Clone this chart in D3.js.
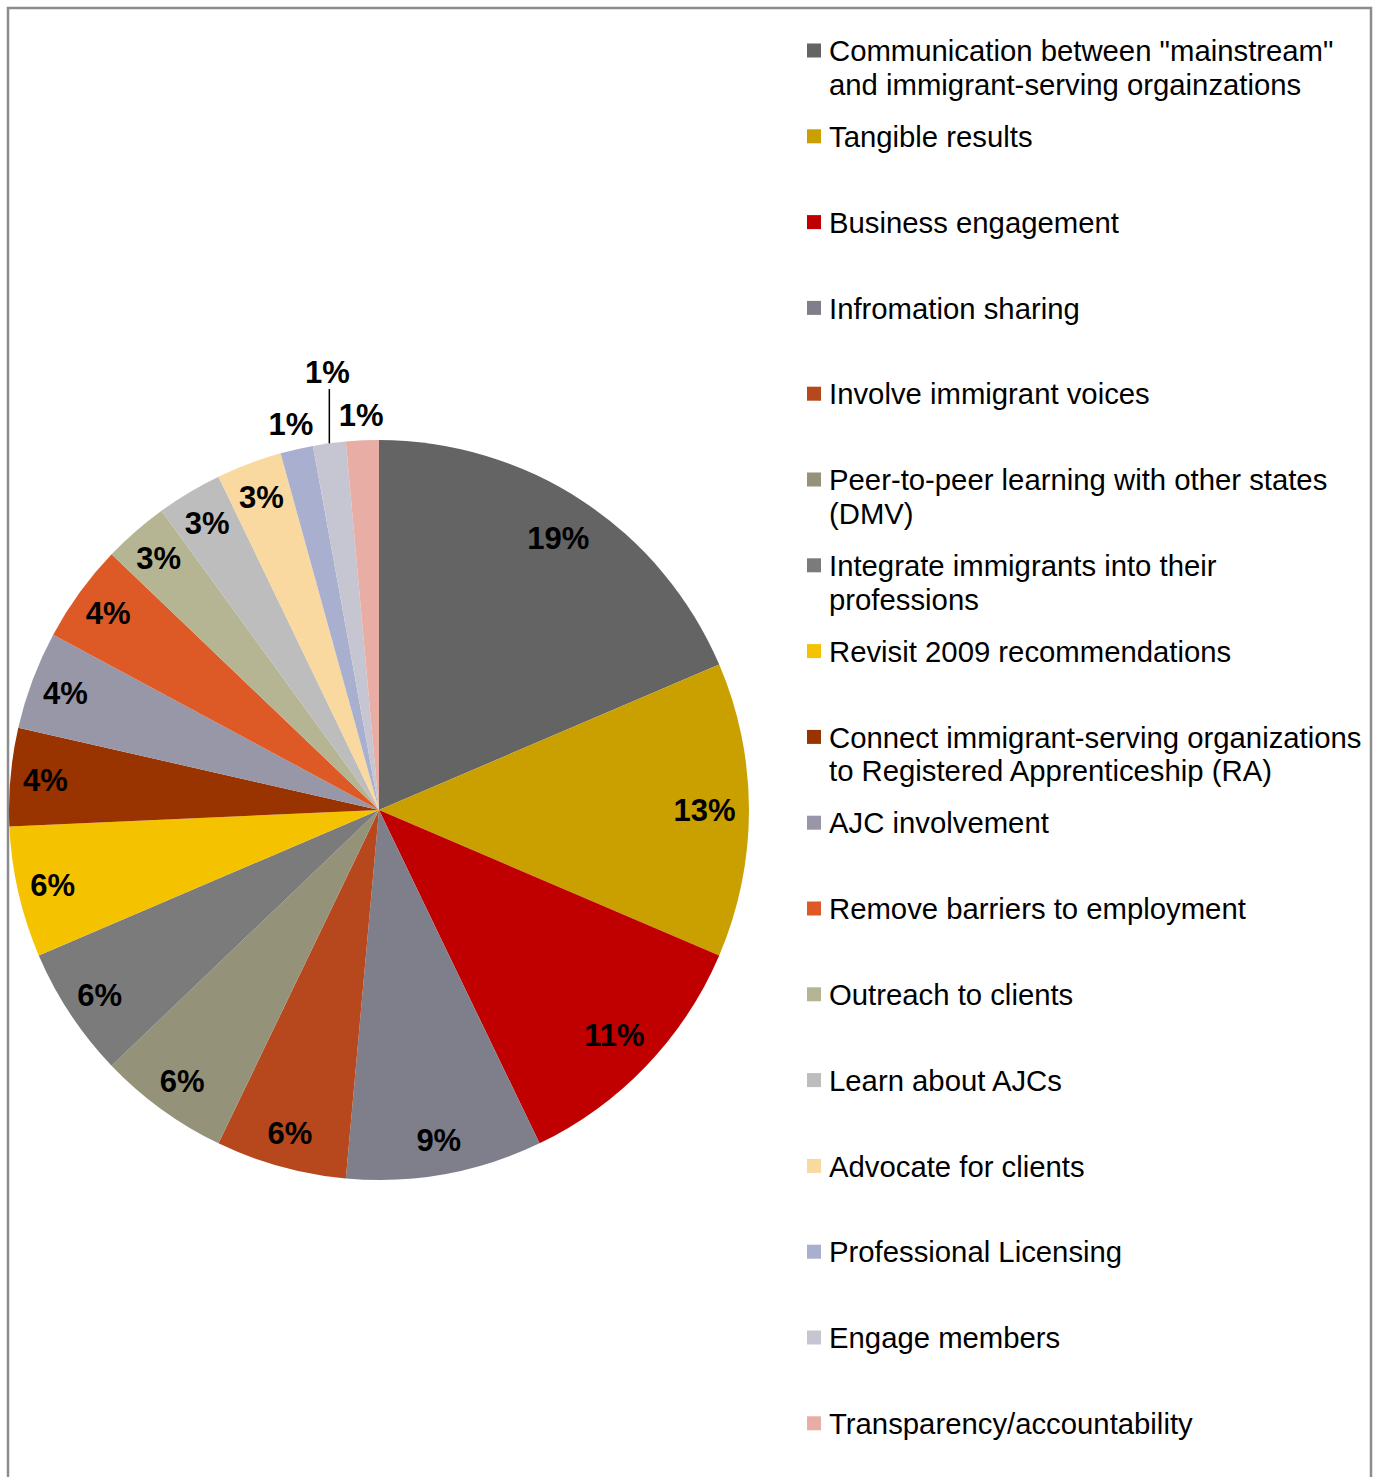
<!DOCTYPE html>
<html>
<head>
<meta charset="utf-8">
<script src="https://cdn.jsdelivr.net/npm/d3@7"></script>
<style>
  body { margin: 0; background: #fff; }
  svg { display: block; font-family: Arial, "Liberation Sans", sans-serif; }
</style>
</head>
<body>
<div id="chart"></div>
<script>
// categories, in pie order (clockwise from 12 o'clock); "\n" marks legend line breaks
var categories = [
    "Communication between \"mainstream\"\nand immigrant-serving orgainzations",
    "Tangible results",
    "Business engagement",
    "Infromation sharing",
    "Involve immigrant voices",
    "Peer-to-peer learning with other states\n(DMV)",
    "Integrate immigrants into their\nprofessions",
    "Revisit 2009 recommendations",
    "Connect immigrant-serving organizations\nto Registered Apprenticeship (RA)",
    "AJC involvement",
    "Remove barriers to employment",
    "Outreach to clients",
    "Learn about AJCs",
    "Advocate for clients",
    "Professional Licensing",
    "Engage members",
    "Transparency/accountability"
];

// number of mentions per category (shares shown as rounded percentages)
var counts = [13, 9, 8, 6, 4, 4, 4, 4, 3, 3, 3, 2, 2, 2, 1, 1, 1];

var colors = [
    "#646464", "#c9a000", "#c00000", "#7f7f8c", "#b7471c", "#949379",
    "#7b7b7b", "#f5c200", "#993300", "#9797a8", "#dd5a27", "#b5b593",
    "#bdbdbd", "#f9d9a0", "#a9b0cf", "#c6c6d2", "#e8ada4"
];

var width = 1373, height = 1477;
var cx = 379, cy = 810, radius = 370;

var svg = d3.select("#chart")
    .append("svg")
    .attr("width", width)
    .attr("height", height);

// chart frame
svg.append("rect")
    .attr("x", 8)
    .attr("y", 8)
    .attr("width", 1363)
    .attr("height", 1500)
    .attr("fill", "none")
    .attr("stroke", "#8c8c8c")
    .attr("stroke-width", 2.5);

var data = categories.map(function (c, i) {
    return {name: c, value: counts[i], color: colors[i]};
});
var total = d3.sum(counts);
var fmt = d3.format(".0%");

var pie = d3.pie()
    .sort(null)
    .value(function (d) { return d.value; });

var arc = d3.arc()
    .innerRadius(0)
    .outerRadius(radius);

var arcs = pie(data);

var g = svg.append("g")
    .attr("transform", "translate(" + cx + "," + cy + ")");

g.selectAll("path.slice")
    .data(arcs)
    .enter().append("path")
    .attr("class", "slice")
    .attr("d", arc)
    .attr("fill", function (d) { return d.data.color; });

// label placement: inside for normal slices, outside for the tiny ones
function polar(r, a) {
    return [r * Math.sin(a), -r * Math.cos(a)];
}
var tiny = arcs.filter(function (d) { return d.data.value / total < 0.02; });
var pushed = tiny.length === 3 ? tiny[1] : null;

arcs.forEach(function (d) {
    var mid = (d.startAngle + d.endAngle) / 2;
    var share = d.data.value / total;
    var pos;
    if (d === pushed) {
        var edge = polar(radius, mid);
        pos = [edge[0] - 2, -438];
        g.append("line")
            .attr("x1", edge[0])
            .attr("y1", edge[1])
            .attr("x2", edge[0])
            .attr("y2", pos[1] + 17)
            .attr("stroke", "#000")
            .attr("stroke-width", 1.5);
    } else if (share < 0.02) {
        pos = polar(radius * 1.07, mid);
    } else if (share > 0.1) {
        pos = polar(radius * 0.88, mid);
    } else {
        pos = polar(radius * 0.905, mid);
    }
    g.append("text")
        .attr("x", pos[0])
        .attr("y", pos[1])
        .attr("text-anchor", "middle")
        .attr("dy", "0.36em")
        .style("font-size", "31px")
        .style("font-weight", "bold")
        .attr("fill", "#000")
        .text(fmt(share));
});

// legend
var legendX = 807, legendTop = 51, legendStep = 85.8;
var legend = svg.append("g").attr("class", "legend");

data.forEach(function (d, i) {
    var y = legendTop + i * legendStep;
    legend.append("rect")
        .attr("x", legendX)
        .attr("y", y - 7.5)
        .attr("width", 14)
        .attr("height", 14)
        .attr("fill", d.color);
    var t = legend.append("text")
        .attr("x", legendX + 22)
        .attr("y", y)
        .style("font-size", "29.3px")
        .attr("fill", "#000");
    d.name.split("\n").forEach(function (line, j) {
        t.append("tspan")
            .attr("x", legendX + 22)
            .attr("dy", j === 0 ? "0.35em" : "33.5px")
            .text(line);
    });
});
</script>
</body>
</html>
